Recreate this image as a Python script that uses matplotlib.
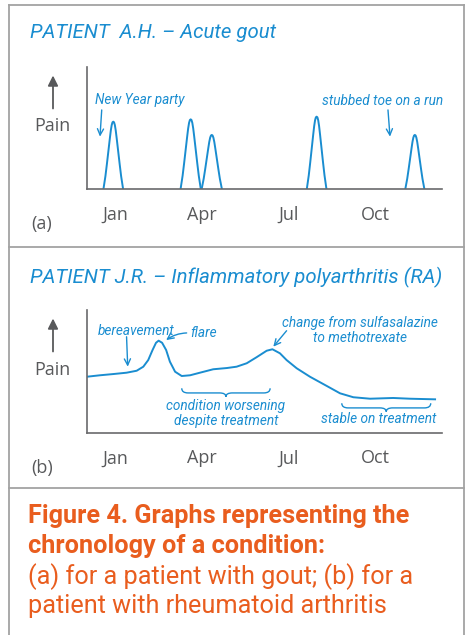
import numpy as np
import matplotlib.pyplot as plt
from matplotlib.lines import Line2D
from matplotlib.path import Path
from matplotlib.patches import PathPatch

# --- data (x in months, Jan = 1; y = pain, 0-10) ---
months = [1, 4, 7, 10]
month_labels = ["Jan", "Apr", "Jul", "Oct"]

# gout flares: centre, peak height, half width at base
gout_month = [0.94, 3.62, 4.35, 7.98, 11.38]
gout_pain = [5.52, 5.71, 4.43, 5.93, 4.43]
gout_halfwidth = [0.34, 0.35, 0.35, 0.34, 0.33]
# shape of one flare (offset / half width, fraction of peak)
flare_offset = [0, 0.08, 0.16, 0.25, 0.35, 0.5, 0.65, 0.8, 1.0]
flare_shape = [1, 0.99, 0.95, 0.87, 0.75, 0.56, 0.37, 0.19, 0]

ra_month = [0.02, 0.48, 0.94, 1.40, 1.75, 1.98, 2.15, 2.30, 2.42, 2.51, 2.63,
            2.77, 2.90, 3.08, 3.31, 3.60, 3.94, 4.40, 4.87, 5.21, 5.56, 5.90,
            6.25, 6.45, 6.71, 6.94, 7.29, 7.75, 8.33, 8.79, 9.25, 9.83, 10.63,
            11.21, 12.08]
ra_pain = [4.56, 4.68, 4.78, 4.89, 5.05, 5.38, 5.92, 6.74, 7.33, 7.50, 7.33,
           6.74, 5.79, 4.97, 4.62, 4.68, 4.89, 5.17, 5.27, 5.38, 5.66, 6.15,
           6.68, 6.80, 6.47, 5.92, 5.25, 4.56, 3.81, 3.21, 2.89, 2.77, 2.83,
           2.77, 2.72]

BLUE = "#1a8dd0"
GREY = "#58595b"
ORANGE = "#e95d1e"
HAND = ["Roboto", "DejaVu Sans"]
LAB = ["Open Sans", "DejaVu Sans"]

W, H = 466, 635
fig = plt.figure(figsize=(W / 100, H / 100), dpi=100)


def fx(x):
    return x / W


def fy(y):
    return 1 - y / H


# frame around the figure
for xs, ys in [([9, 9], [4.7, 635]), ([464, 464], [4.7, 635]),
               ([9, 464], [4.7, 4.7]), ([9, 464], [246.7, 246.7]),
               ([9, 464], [488.3, 488.3])]:
    fig.add_artist(Line2D([fx(v) for v in xs], [fy(v) for v in ys],
                          color="#a3a3a3", lw=1.3))


def setup(ax_top, ax_bot, title, title_base, tag):
    ax = fig.add_axes([fx(86.7), fy(ax_bot), fx(442) - fx(86.7),
                       fy(ax_top) - fy(ax_bot)])
    ax.set_xlim(0.02, 12.32)
    ax.set_ylim(0, 10)
    for s in ["top", "right"]:
        ax.spines[s].set_visible(False)
    for s in ["left", "bottom"]:
        ax.spines[s].set_color("#6a6a6c")
        ax.spines[s].set_linewidth(1.2)
    ax.set_yticks([])
    ax.set_xticks(months, month_labels)
    ax.tick_params(axis="x", length=0, pad=12, labelsize=13, labelcolor=GREY)
    for lab in ax.get_xticklabels():
        lab.set_family(LAB)
    ax.patch.set_alpha(0)
    fig.text(fx(30), fy(title_base), title, color=BLUE, family=HAND,
             style="italic", fontsize=14.7, va="baseline")
    mid = ax_bot - 63
    fig.text(fx(52), fy(mid), "Pain", color=GREY, family=LAB, fontsize=13,
             ha="center", va="center")
    ax.annotate("", xy=(fx(53), fy(ax_top + 8.5)), xycoords="figure fraction",
                xytext=(fx(53), fy(ax_top + 41.5)),
                arrowprops=dict(arrowstyle="-|>,head_length=0.6,head_width=0.3",
                                color=GREY, lw=1.3, shrinkA=0, shrinkB=0))
    fig.text(fx(31), fy(ax_bot + 35), tag, color=GREY, family=LAB, fontsize=13,
             ha="left", va="center")
    return ax


def note(ax, text, xy, **kw):
    ax.annotate(text, xy=xy, xytext=xy, color=BLUE, family=HAND,
                style="italic", fontsize=9.8, **kw)


def arrow(ax, start, end, rad=0.0):
    ax.annotate("", xy=end, xytext=start,
                arrowprops=dict(arrowstyle="->,head_length=0.45,head_width=0.22",
                                color=BLUE, lw=1.0, shrinkA=0, shrinkB=0,
                                connectionstyle=f"arc3,rad={rad}"))


def brace(ax, x0, x1, ytop, ytip):
    ymid = ytop - 0.55 * (ytop - ytip)
    xm = (x0 + x1) / 2
    d = 0.22
    verts = [(x0, ytop), (x0, ymid), (x0 + d, ymid), (xm - d, ymid),
             (xm, ymid), (xm, ytip), (xm, ymid), (xm + d, ymid),
             (x1 - d, ymid), (x1, ymid), (x1, ytop)]
    codes = [Path.MOVETO, Path.CURVE3, Path.CURVE3, Path.LINETO,
             Path.CURVE3, Path.CURVE3, Path.CURVE3, Path.CURVE3,
             Path.LINETO, Path.CURVE3, Path.CURVE3]
    ax.add_patch(PathPatch(Path(verts, codes), fill=False, ec=BLUE, lw=1.0))


# (a) gout
ax1 = setup(67, 189, "PATIENT  A.H. \u2013 Acute gout", 38.3, "(a)")
off = np.array(flare_offset)
shp = np.array(flare_shape)
for c, h, w in zip(gout_month, gout_pain, gout_halfwidth):
    xs = np.concatenate([c - off[::-1] * w, c + off[1:] * w])
    ys = np.concatenate([shp[::-1], shp[1:]]) * h
    ax1.plot(xs, ys, color=BLUE, lw=1.4, solid_capstyle="round")
note(ax1, "New Year party", (0.31, 7.3), va="center")
arrow(ax1, (0.54, 6.48), (0.48, 4.29))
note(ax1, "stubbed toe on a run", (8.15, 7.24), va="center")
arrow(ax1, (10.45, 6.48), (10.52, 4.29))

# (b) rheumatoid arthritis
ax2 = setup(310, 432.7, "PATIENT J.R. \u2013 Inflammatory polyarthritis (RA)",
            283.3, "(b)")
ax2.plot(ra_month, ra_pain, color=BLUE, lw=1.4)
note(ax2, "bereavement", (0.41, 8.31), va="center")
arrow(ax2, (1.40, 7.82), (1.44, 5.38))
note(ax2, "flare", (3.60, 8.13), va="center")
arrow(ax2, (3.48, 8.13), (2.77, 7.55), rad=0.15)
note(ax2, "change from sulfasalazine\nto methotrexate", (9.48, 8.35),
     va="center", ha="center", linespacing=1.05)
arrow(ax2, (6.94, 8.31), (6.48, 7.01))
brace(ax2, 3.31, 6.37, 3.62, 2.93)
note(ax2, "condition worsening\ndespite treatment", (4.84, 1.55),
     va="center", ha="center", linespacing=1.05)
brace(ax2, 8.85, 11.93, 2.40, 1.71)
note(ax2, "stable on treatment", (10.14, 1.09), va="center", ha="center")

# caption
cap = ["Figure 4. Graphs representing the", "chronology of a condition:",
       "(a) for a patient with gout; (b) for a",
       "patient with rheumatoid arthritis"]
cap_base = [523.3, 553.3, 584, 613.3]
for i, (t, b) in enumerate(zip(cap, cap_base)):
    fig.text(fx(28), fy(b), t, color=ORANGE, family=HAND, fontsize=18.2,
             weight="bold" if i < 2 else "normal", va="baseline")

fig.savefig("out.png", dpi=100)
